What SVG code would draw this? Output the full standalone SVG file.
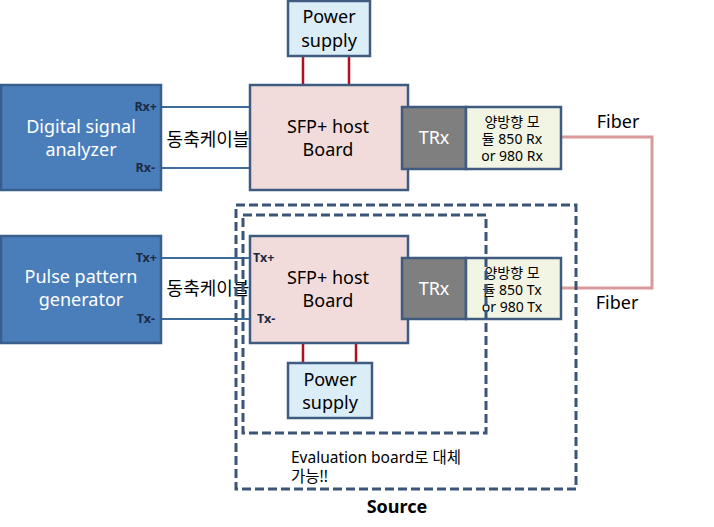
<svg xmlns="http://www.w3.org/2000/svg" width="714" height="527" viewBox="0 0 714 527">
<style>
text{font-family:"Noto Sans","Noto Sans CJK KR",sans-serif;}
.inst{fill:#4a7ebb;stroke:#3b5f8c;stroke-width:2.5}
.sfp{fill:#f2dcdb;stroke:#3f5b7f;stroke-width:2.5}
.ps{fill:#dbeef8;stroke:#3f5b7f;stroke-width:2.5}
.trx{fill:#7f7f7f;stroke:#3f5b7f;stroke-width:2.5}
.mod{fill:#f3f5e4;stroke:#3f5b7f;stroke-width:2.5}
.w{fill:#fff;font-size:18px;text-anchor:middle}
.b{fill:#000;font-size:18px;text-anchor:middle}
.m{fill:#000;font-size:14px;text-anchor:middle}
.pin{fill:#1c2a44;font-size:12.5px;font-weight:bold}
.cable{stroke:#3d6b9c;stroke-width:2;fill:none}
.pwr{stroke:#b01020;stroke-width:2.5;fill:none}
.fiber{stroke:#d99a9a;stroke-width:3;fill:none}
.dash{stroke:#3b5578;stroke-width:3;fill:none;stroke-dasharray:9,4}
</style>
<rect width="714" height="527" fill="#fff"/>
<g id="connectors">
<line class="pwr" x1="303" y1="56" x2="303" y2="85"/>
<line class="pwr" x1="349" y1="56" x2="349" y2="85"/>
<line class="pwr" x1="303" y1="343" x2="303" y2="363"/>
<line class="pwr" x1="356" y1="343" x2="356" y2="363"/>
<line class="cable" x1="161" y1="107" x2="250" y2="107"/>
<line class="cable" x1="161" y1="168" x2="250" y2="168"/>
<line class="cable" x1="161" y1="258" x2="250" y2="258"/>
<line class="cable" x1="161" y1="319" x2="250" y2="319"/>
<polyline class="fiber" points="561,137 652,137 652,288 561,288"/>
</g>
<g id="power1">
<rect class="ps" x="288" y="1" width="82" height="55"/>
<text class="b" x="329" y="23" font-size="17">Power</text>
<text class="b" x="329" y="47" font-size="17">supply</text>
</g>
<g id="analyzer">
<rect class="inst" x="1" y="85" width="160" height="105"/>
<text class="w" x="81" y="133">Digital signal</text>
<text class="w" x="81" y="156">analyzer</text>
<text class="pin" x="157" y="111" text-anchor="end">Rx+</text>
<text class="pin" x="155" y="172" text-anchor="end">Rx-</text>
</g>
<g id="sfp1">
<rect class="sfp" x="250" y="85" width="158" height="105"/>
<text class="b" x="328" y="133">SFP+ host</text>
<text class="b" x="328" y="156">Board</text>
</g>
<g id="trx1">
<rect class="trx" x="402" y="107" width="64" height="62"/>
<text class="w" x="434" y="144">TRx</text>
</g>
<g id="mod1">
<rect class="mod" x="466" y="107" width="95" height="62"/>
<text class="m" x="512" y="127">양방향 모</text>
<text class="m" x="512" y="144">듈 850 Rx</text>
<text class="m" x="512" y="161">or 980 Rx</text>
</g>
<g id="generator">
<rect class="inst" x="1" y="236" width="160" height="107"/>
<text class="w" x="81" y="283">Pulse pattern</text>
<text class="w" x="81" y="306">generator</text>
<text class="pin" x="157" y="262" text-anchor="end">Tx+</text>
<text class="pin" x="155" y="323" text-anchor="end">Tx-</text>
</g>
<g id="sfp2">
<rect class="sfp" x="250" y="236" width="158" height="107"/>
<text class="b" x="328" y="284">SFP+ host</text>
<text class="b" x="328" y="307">Board</text>
<text class="pin" x="253" y="262">Tx+</text>
<text class="pin" x="257" y="323">Tx-</text>
</g>
<g id="trx2">
<rect class="trx" x="402" y="258" width="64" height="61"/>
<text class="w" x="434" y="295">TRx</text>
</g>
<g id="mod2">
<rect class="mod" x="466" y="258" width="95" height="61"/>
<text class="m" x="512" y="278">양방향 모</text>
<text class="m" x="512" y="295">듈 850 Tx</text>
<text class="m" x="512" y="312">or 980 Tx</text>
</g>
<g id="power2">
<rect class="ps" x="288" y="363" width="84" height="55"/>
<text class="b" x="330" y="386" font-size="17">Power</text>
<text class="b" x="330" y="409" font-size="17">supply</text>
</g>
<g id="labels">
<text class="b" x="208" y="146" font-size="15">동축케이블</text>
<text class="b" x="208" y="295" font-size="15">동축케이블</text>
<text class="b" x="618" y="128" font-size="14.5">Fiber</text>
<text class="b" x="617" y="309" font-size="14.5">Fiber</text>
<text x="291" y="463" font-size="15.5" fill="#000">Evaluation board로 대체</text>
<text x="291" y="482" font-size="15.5" fill="#000">가능!!</text>
<text class="b" x="397" y="513" font-size="15" font-weight="bold">Source</text>
</g>
<g id="source-frames">
<rect class="dash" x="236" y="205" width="340" height="284"/>
<rect class="dash" x="243" y="215" width="243" height="218"/>
</g>
</svg>
